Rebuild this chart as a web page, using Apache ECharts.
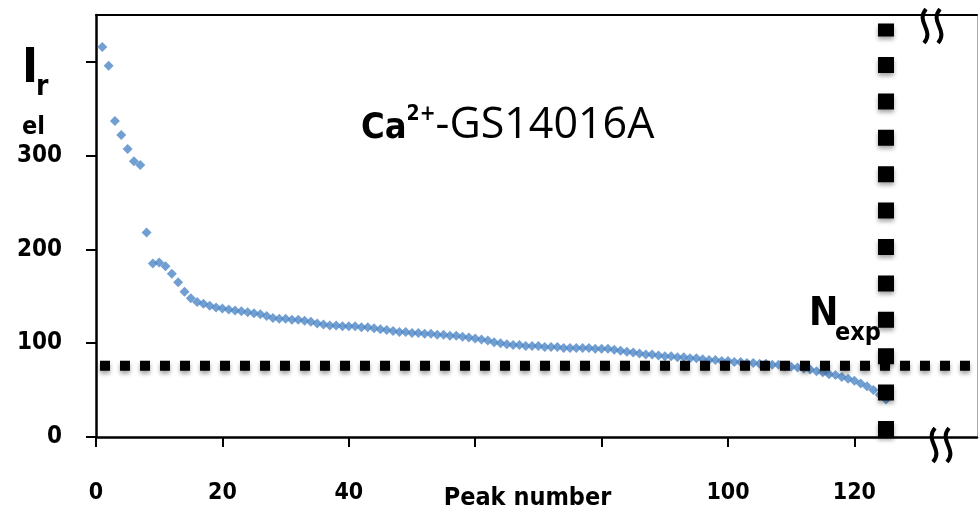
<!DOCTYPE html>
<html>
<head>
<meta charset="utf-8">
<script src="https://cdn.jsdelivr.net/npm/echarts@6/dist/echarts.min.js"></script>
<style>html,body{margin:0;padding:0;background:#fff}#main{width:979px;height:513px}</style>
</head>
<body>
<div id="main"></div>
<script>
// relative intensity of each peak, sorted
var intensity = [
  416, 396, 337, 322, 307, 294, 290, 218, 185, 186,
  182, 174, 165, 155, 148, 144, 142, 140, 138, 137,
  136, 135, 134, 133, 132, 131, 129, 127, 126, 126,
  125, 125, 124, 123, 121, 120, 119, 119, 118, 118,
  118, 117, 117, 116, 115, 114, 113, 112, 112, 111,
  111, 110, 110, 109, 109, 108, 108, 107, 106, 105,
  104, 103, 101, 100, 99, 98, 98, 97, 97, 97,
  96, 96, 96, 95, 95, 95, 95, 95, 94, 94,
  94, 93, 92, 91, 90, 89, 88, 88, 87, 86,
  86, 85, 85, 84, 84, 83, 82, 82, 81, 81,
  80, 80, 79, 79, 78, 78, 77, 77, 76, 75,
  74, 73, 72, 70, 69, 67, 66, 64, 62, 60,
  57, 54, 50, 45, 40
];
var peakNumber = [];
for (var i = 0; i < intensity.length; i++) peakNumber.push(i + 1);

var nExp = 125;      // vertical cut
var cutoff = 76;     // horizontal cut
var xMax = 139.4;
var yMax = 450;
var xTicks = [0, 20, 40, 60, 80, 100, 120];
var xLabels = [0, 20, 40, 100, 120];
var yTicks = [0, 100, 200, 300, 400];
var yLabels = [0, 100, 200, 300];

var points = peakNumber.map(function (n, i) { return [n, intensity[i]]; });

var font = '"DejaVu Sans Condensed", "Noto Sans", sans-serif';

// "axis break" squiggle at (x, y)
function squiggle(x, y) {
  return {
    type: 'bezierCurve',
    shape: { x1: x + 6, y1: y, cpx1: x - 5, cpy1: y + 13, cpx2: x + 15, cpy2: y + 21, x2: x + 4, y2: y + 34 },
    style: { stroke: '#000', lineWidth: 4, fill: null }
  };
}

var myChart = echarts.init(document.getElementById('main'));
var option = {
  backgroundColor: '#fff',
  animation: false,
  title: {
    left: 356, top: 99,
    text: '{b|Ca}{s|2+}{n|-GS14016A}',
    textStyle: {
      rich: {
        b: { fontSize: 36, fontWeight: 'bold', color: '#000', fontFamily: font, verticalAlign: 'bottom' },
        s: { fontSize: 21, fontWeight: 'bold', color: '#000', fontFamily: font, verticalAlign: 'top', padding: [0, 0, 20, 0] },
        n: { fontSize: 43, fontWeight: 'normal', color: '#000', fontFamily: '"Open Sans", sans-serif', verticalAlign: 'bottom' }
      }
    }
  },
  grid: { left: 96, top: 15, right: 2, bottom: 76, outerBoundsMode: 'none' },
  xAxis: [{
    type: 'value', min: 0, max: xMax, interval: 20,
    name: 'Peak number', nameLocation: 'middle', nameGap: 49, nameMoveOverlap: false,
    nameTextStyle: { fontSize: 25, fontWeight: 'bold', color: '#000', fontFamily: font, padding: [0, 18, 0, 0] },
    axisLine: { onZero: false, lineStyle: { color: '#000', width: 2.5 } },
    axisTick: { length: 10, customValues: xTicks, lineStyle: { color: '#000', width: 2 } },
    axisLabel: { customValues: xLabels, margin: 45, fontSize: 23, fontWeight: 'bold', color: '#000', fontFamily: font },
    splitLine: { show: false }
  }, {
    type: 'value', position: 'top', min: 0, max: xMax,
    axisLine: { show: true, onZero: false, lineStyle: { color: '#000', width: 2 } },
    axisTick: { show: false }, axisLabel: { show: false }, splitLine: { show: false }
  }],
  yAxis: [{
    type: 'value', min: 0, max: yMax, interval: 100,
    axisLine: { show: true, onZero: false, lineStyle: { color: '#000', width: 2.5 } },
    axisTick: { show: true, length: 10, customValues: yTicks, lineStyle: { color: '#000', width: 2 } },
    axisLabel: { customValues: yLabels, margin: 34, fontSize: 24, fontWeight: 'bold', color: '#000', fontFamily: font },
    splitLine: { show: false }
  }, {
    type: 'value', position: 'right', min: 0, max: yMax,
    axisLine: { show: true, onZero: false, lineStyle: { color: '#aaa', width: 1 } },
    axisTick: { show: false }, axisLabel: { show: false }, splitLine: { show: false }
  }],
  series: [{
    type: 'scatter',
    data: points,
    symbol: 'diamond',
    symbolSize: 10,
    itemStyle: { color: '#4d87c7' },
    z: 2
  }, {
    type: 'line',
    data: [[0, cutoff], [xMax, cutoff]],
    showSymbol: false, symbol: 'none',
    lineStyle: { color: '#000', width: 10, type: [10, 10], dashOffset: 16, cap: 'butt',
      shadowBlur: 4, shadowColor: 'rgba(0,0,0,0.35)', shadowOffsetY: 3 },
    z: 3
  }, {
    type: 'line',
    data: [[nExp, 0], [nExp, 441]],
    showSymbol: false, symbol: 'none',
    lineStyle: { color: '#000', width: 16, type: [16, 20.4], cap: 'butt',
      shadowBlur: 4, shadowColor: 'rgba(0,0,0,0.35)', shadowOffsetY: 3 },
    z: 4
  }],
  graphic: [
    { type: 'text', left: 22, top: 46, style: { text: 'I', font: 'bold 48px ' + font, fill: '#000' } },
    { type: 'text', left: 36, top: 74, style: { text: 'r', font: 'bold 28px ' + font, fill: '#000' } },
    { type: 'text', left: 22, top: 115, style: { text: 'el', font: 'bold 25px ' + font, fill: '#000' } },
    { type: 'text', left: 809, top: 295, style: { text: 'N', font: 'bold 39px ' + font, fill: '#000' } },
    { type: 'text', left: 835, top: 321, style: { text: 'exp', font: 'bold 25px ' + font, fill: '#000' } },
    squiggle(920, 9), squiggle(934, 9), squiggle(929, 428), squiggle(943, 428)
  ]
};
myChart.setOption(option);
</script>
</body>
</html>
